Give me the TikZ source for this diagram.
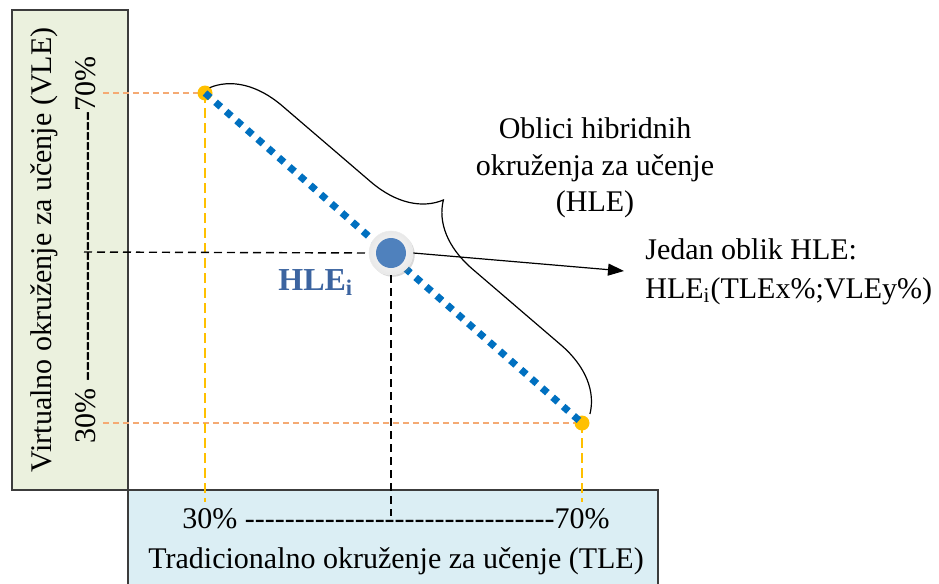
\documentclass[tikz,border=0pt]{standalone}
\usepackage{fontspec}
\setmainfont{Liberation Serif}
\usetikzlibrary{decorations.pathreplacing,arrows.meta,shadows}
\definecolor{vlegreen}{RGB}{235,241,222}
\definecolor{tleblue}{RGB}{219,238,244}
\definecolor{boxline}{RGB}{60,60,60}
\definecolor{dashorange}{RGB}{245,170,115}
\definecolor{dashyellow}{RGB}{255,192,0}
\definecolor{dotblue}{RGB}{0,112,192}
\definecolor{hleblue}{RGB}{79,129,189}
\definecolor{labelblue}{RGB}{60,100,160}
\newcount\hycnt
\newcommand\hyrow[1]{\hycnt=0\relax\loop\ifnum\hycnt<#1\relax\mbox{-}\advance\hycnt by 1\relax\repeat}
\begin{document}
\begin{tikzpicture}[x=0.5pt,y=-0.5pt,
  txt/.style={font=\fontsize{15}{18}\selectfont, inner sep=0pt},
  boxedge/.style={draw=boxline, line width=0.8pt},
  odash/.style={dashorange, line width=1pt, dash pattern=on 3pt off 2pt},
  ydash/.style={dashyellow, line width=1.2pt, dash pattern=on 5pt off 2.5pt},
  kdash/.style={black, line width=0.7pt, dash pattern=on 4pt off 2.5pt},
  enddot/.style={circle, fill=dashyellow, minimum size=7.5pt, inner sep=0pt},
  bluedots/.style={dotblue, line width=3.5pt, dash pattern=on 3.5pt off 3.5pt},
  bracestyle/.style={decorate, decoration={brace, amplitude=33.5pt}, line width=0.6pt},
  arrowstyle/.style={-{Triangle[length=8pt,width=6pt]}, line width=0.6pt}
]
\useasboundingbox (0,0) rectangle (939,584);
% boxes
\fill[vlegreen] (12,10) rectangle (128,490);
\draw[boxedge] (12,10) rectangle (128,490);
\fill[tleblue] (128,490) rectangle (658,584);
\draw[boxedge] (128,584) -- (128,490) -- (658,490) -- (658,584);
% key points
\coordinate (A) at (205,93);
\coordinate (B) at (582,423);
\coordinate (oStart) at (103,0);
\coordinate (yEnd) at (0,502);
\coordinate (kStart) at (84,252);
\coordinate (kEnd) at (0,516);
\coordinate (br1) at (209.6,87.7);
\coordinate (br2) at (590,414);
\coordinate (arrEnd) at (624,271);
% guide lines
\draw[odash] (A -| oStart) -- (A);
\draw[odash] (B -| oStart) -- (B);
\draw[ydash] (A) -- (A |- yEnd);
\draw[ydash] (B) -- (B |- yEnd);
\node[enddot] (dA) at (A) {};
\node[enddot] (dB) at (B) {};
\draw[bluedots] (dA.center) -- (dB.center);
\draw[bracestyle] (br1) -- (br2);
% HLE point
\node[circle, minimum size=22pt, inner sep=0pt, inner color=white, outer color=gray!18,
      draw=gray!15, line width=0.3pt,
      drop shadow={shadow xshift=0.9pt, shadow yshift=-0.9pt, opacity=0.3}] (hle) at (391,253) {};
\node[circle, fill=hleblue, minimum size=15pt, inner sep=0pt] (hlec) at (hle.center) {};
\draw[kdash] (kStart) -- (hle.west);
\draw[kdash] (hle.south) -- (hle.south |- kEnd);
\draw[arrowstyle] (hle.east) -- (arrEnd);
% texts
\node[txt, rotate=90, anchor=base] (vle) at (52,250) {Virtualno okruženje za učenje (VLE)};
\node[txt, rotate=90, anchor=base] (vscale) at (95,250) {30\% \hyrow{27}70\%};
\node[txt, anchor=base west] (tscale) at (182,528) {30\% \hyrow{31}70\%};
\node[txt, anchor=base west] (tle) at (148,568) {Tradicionalno okruženje za učenje (TLE)};
\node[txt, font=\fontsize{15}{18.25}\selectfont, align=center, anchor=north] (forms) at (595,117.5)
  {Oblici hibridnih\\okruženja za učenje\\(HLE)};
\node[txt, font=\fontsize{15}{19.5}\selectfont, align=left, anchor=north west] (oneform) at (645,238)
  {Jedan oblik HLE:\\HLE\textsubscript{i}(TLEx\%;VLEy\%)};
\node[font=\fontsize{16}{18}\selectfont\bfseries, text=labelblue, anchor=base west, inner sep=0pt] (hlelab) at (278,290)
  {HLE\textsubscript{i}};
\end{tikzpicture}
\end{document}
